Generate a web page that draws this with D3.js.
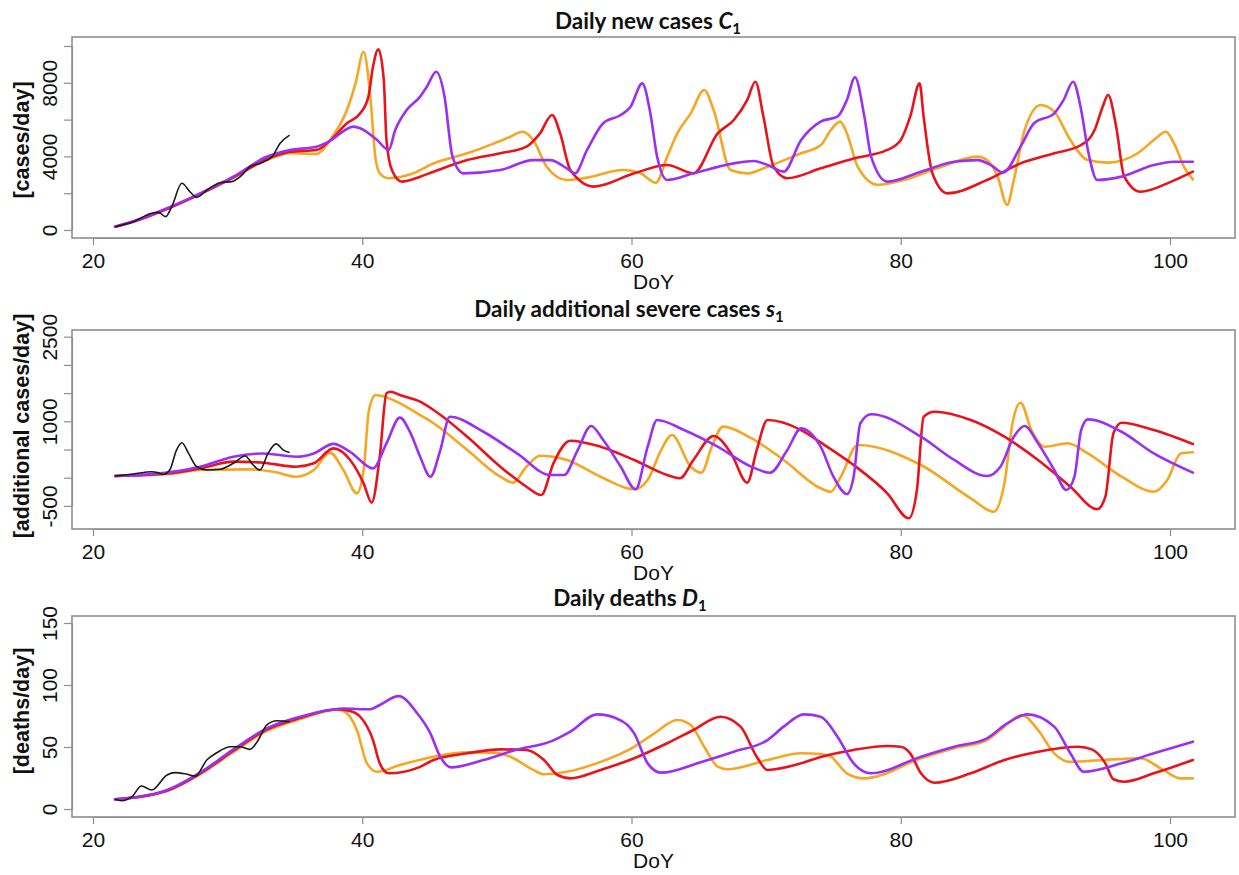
<!DOCTYPE html>
<html><head><meta charset="utf-8">
<script src="https://cdn.jsdelivr.net/npm/d3@7"></script>
<style>body{margin:0;background:#fff}svg{display:block}</style>
</head><body>
<svg id="chart" width="1239" height="875"></svg>
<script>
// ---------- DATA (day of year, value) ----------
const xTicks = [20, 40, 60, 80, 100];

// Panel 1: Daily new cases C1
const casesTicks = [0, 2000, 4000, 6000, 8000, 10000];
const casesTickLabels = [0, 4000, 8000];
const casesObs = [[21.64,180],[23,450],[24.36,906],[24.86,960],[25.4,725],[25.85,1270],[26.6,2540],[27.2,2080],[27.7,1775],[28.45,2170],[29.44,2570],[30.3,2630],[30.93,2900],[31.67,3440],[32.4,3620],[33.3,3980],[33.9,4710],[34.6,5160]];
const casesOrange = [[21.64,180],[23,460],[25.5,1150],[27.95,1950],[30.43,2850],[32.9,3800],[34.65,4170],[36.6,4130],[37.6,4890],[38.86,6520],[39.5,7970],[40.1,9690],[40.6,7250],[40.97,3990],[41.3,3080],[41.96,2810],[43.8,3080],[45.3,3620],[47.8,4170],[49.8,4710],[51,5070],[51.9,5340],[52.7,4890],[53.7,3440],[55.2,2720],[56.4,2810],[59.4,3260],[60.67,3080],[61.8,2570],[62.65,3990],[63.4,5250],[64.4,6340],[65.4,7610],[66.1,6520],[67.36,3260],[68.6,3080],[70.1,3440],[72.6,4170],[74.05,4600],[74.8,5430],[75.5,5890],[76.0,5250],[76.8,3440],[78.3,2450],[80.25,2720],[82.7,3350],[85.7,3990],[86.4,3800],[87.2,2900],[87.9,1360],[88.4,2720],[89.2,5430],[90.4,6790],[91.4,6430],[92.6,4890],[93.9,3800],[95.4,3660],[97.6,4170],[98.8,4890],[99.7,5340],[100.3,4710],[101.1,3350],[101.7,2750]];
const casesRed = [[21.64,180],[23,450],[25.5,1140],[27.95,1950],[30.43,2860],[32.9,3850],[34.65,4250],[36.6,4350],[37.6,4850],[38.86,5800],[39.85,6340],[40.46,7250],[40.8,8880],[41.2,9820],[41.6,8150],[41.8,4890],[42.2,3260],[42.95,2630],[44.3,2900],[45.3,3170],[47.8,3800],[50.26,4170],[52.2,4530],[53.2,5250],[54.1,6250],[54.7,5250],[55.46,3260],[57.2,2360],[60.2,3080],[62.65,3530],[64.6,3080],[66.4,5250],[67.6,5980],[68.6,7070],[69.2,8060],[69.8,6160],[70.56,3440],[71.57,2810],[74.05,3350],[76.5,3890],[79.0,4350],[80,4890],[80.7,6160],[81.4,7970],[81.7,6160],[82.35,3080],[83.46,1990],[86.4,2720],[88.9,3620],[91.4,4170],[93.4,4620],[94.4,5430],[95.0,6700],[95.4,7340],[96.0,5620],[96.6,2900],[97.8,2080],[100.1,2630],[101.7,3170]];
const casesPurple = [[21.64,180],[23,480],[25.5,1180],[27.95,1990],[30.43,2900],[32.9,3980],[34.65,4350],[36.6,4530],[37.5,4800],[39.36,5620],[39.85,5530],[41.1,4890],[41.96,4350],[42.45,5430],[43.3,6520],[44.3,7250],[44.8,7790],[45.5,8600],[46.1,7300],[46.7,4000],[47.5,3080],[50.26,3260],[52.7,3800],[53.97,3800],[55.2,3350],[55.8,3080],[56.7,4350],[57.9,5800],[59.2,6250],[59.93,6700],[60.8,7970],[61.4,6340],[61.9,3990],[62.65,2720],[64.6,3080],[67.6,3620],[69.1,3750],[70.1,3530],[71.3,3170],[72.6,4890],[74.05,5890],[75.3,6160],[76.0,7070],[76.6,8300],[77.3,6160],[77.8,3990],[79.0,2630],[81.5,3170],[83.97,3710],[85.7,3800],[86.7,3530],[87.6,3120],[88.9,4530],[89.9,5800],[91.4,6340],[92.1,7070],[92.8,8060],[93.4,6520],[93.9,4350],[94.6,2720],[96.4,2900],[98.8,3530],[100.3,3710],[101.7,3710]];

// Panel 2: Daily additional severe cases s1
const severeTicks = [-500, 0, 500, 1000, 1500, 2000, 2500];
const severeTickLabels = [-500, 1000, 2500];
const severeObs = [[21.64,30],[23,65],[24.36,106],[24.8,90],[25.2,60],[25.7,136],[26.2,490],[26.6,620],[27.1,430],[27.7,195],[28.45,136],[29.44,150],[30.43,255],[31.3,385],[31.9,225],[32.4,136],[33.0,430],[33.6,600],[34.15,490],[34.6,445]];
const severeOrange = [[21.64,30],[25.5,60],[27.95,136],[31.67,148],[33.5,100],[35.1,18],[36.4,136],[37.6,445],[38.6,136],[39.6,-277],[40.1,136],[40.5,1200],[41.0,1466],[42.8,1319],[44.3,1110],[45.3,965],[47.8,490],[50.26,18],[51.2,-88],[52.2,195],[53.2,390],[55.2,314],[57.7,18],[60.2,-206],[61.2,-40],[62.2,490],[63.0,757],[64.4,195],[65.2,89],[65.96,550],[66.8,905],[68.9,700],[71.3,314],[74.05,-188],[74.8,-248],[75.55,18],[76.8,580],[81.5,225],[85.2,-365],[86.9,-603],[87.7,-100],[88.3,965],[88.9,1330],[89.7,845],[90.7,550],[92.4,610],[93.9,430],[96.4,18],[98.8,-248],[99.8,-40],[100.8,430],[101.7,450]];
const severeRed = [[21.64,30],[25.5,75],[27.95,165],[30.43,285],[32.66,265],[35.1,195],[36.4,255],[37.86,520],[39.1,314],[40.1,-100],[40.7,-443],[41.3,372],[41.8,1496],[42.1,1525],[42.8,1466],[44.3,1348],[45.3,1200],[47.8,727],[50.26,195],[52.2,-160],[53.3,-307],[54.2,255],[55.46,656],[57.7,550],[60.2,314],[62.65,48],[63.6,-11],[64.6,314],[66.1,740],[67.4,430],[68.6,-88],[69.3,490],[70.1,1023],[72.6,845],[74.05,625],[76.5,225],[79.0,-277],[80.6,-720],[81.2,-218],[81.7,1080],[82.5,1170],[85.2,1023],[87.7,727],[90.2,314],[92.6,-160],[94.6,-560],[95.2,-337],[95.8,787],[96.4,975],[98.8,845],[101.7,597]];
const severePurple = [[21.64,30],[25.5,90],[27.95,195],[30.43,372],[32.66,430],[35.1,372],[36.4,430],[37.86,600],[39.1,460],[40.8,165],[41.8,610],[42.8,1065],[43.57,800],[44.3,372],[45.06,18],[45.8,490],[46.5,1080],[49.0,815],[51.5,430],[53.97,48],[55.0,48],[56.0,490],[57.0,917],[57.9,668],[59.2,195],[60.3,-206],[61.2,550],[61.9,1023],[63.9,845],[66.4,550],[68.9,195],[70.3,89],[71.57,490],[72.6,875],[73.55,727],[74.05,550],[75.0,18],[76.0,-290],[76.5,18],[77.0,965],[77.8,1125],[81.5,727],[83.97,314],[86.4,30],[87.4,195],[88.4,727],[89.2,917],[90.2,610],[91.4,136],[92.3,-218],[92.9,18],[93.4,845],[93.9,1035],[96.4,815],[98.8,430],[101.7,89]];

// Panel 3: Daily deaths D1
const deathsTicks = [0, 50, 100, 150];
const deathsTickLabels = [0, 50, 100, 150];
const deathsObs = [[21.64,7.8],[22.1,6.7],[22.9,10],[23.6,18.5],[24.36,15.3],[25.5,27.4],[26.1,29.3],[26.9,28.2],[27.6,26.5],[28.45,39.5],[29.2,45.4],[30.2,50.2],[30.9,50.2],[31.67,48.1],[32.2,54.3],[32.9,67.7],[33.66,71.2],[34.6,70.4]];
const deathsOrange = [[21.64,7.8],[25.5,14.5],[27.95,28],[30.43,46],[32.9,63],[35.4,72.5],[38.1,80],[38.6,79],[39.6,63.7],[40.35,36.8],[41.1,30],[42.8,35.5],[45.3,42.2],[47.8,45.7],[49.8,45.4],[51,42.2],[52.7,31.5],[53.5,28],[55.2,30],[57.7,38],[60.2,50.2],[61.7,61],[63.4,71.8],[64.4,67.7],[65.4,50.2],[66.4,34.1],[67.1,32],[70.1,39.5],[72.6,44.9],[74.05,44.4],[74.8,42.2],[76.0,28.8],[77.3,24.7],[81.5,40.9],[83.97,49],[86.4,55.6],[87.4,63.7],[89.0,75.8],[90.2,63.7],[91.4,44.9],[92.6,38],[95.0,39.5],[97.8,40.9],[99.5,31.5],[100.8,24.7],[101.7,24.7]];
const deathsRed = [[21.64,7.8],[25.5,14.8],[27.95,28.5],[30.43,47],[32.9,64],[35.4,73.5],[38.1,80.5],[39.1,79],[39.85,74.4],[40.8,55.6],[41.3,36.8],[41.96,28.8],[44.3,34],[45.3,39.5],[47.8,44.9],[50.26,48.1],[52.2,47.6],[53.5,39.5],[54.5,27.4],[55.46,24.7],[57.7,31.5],[60.2,40.9],[62.65,53],[64.6,63.7],[66.6,74.4],[68.1,66.4],[69.3,42.2],[70.1,31.5],[72.6,36.8],[74.05,42],[76.5,47.6],[79.0,50.8],[80.0,50.2],[80.7,44.9],[81.5,28.8],[82.5,21.2],[85.2,28.8],[87.7,39.5],[90.2,46.2],[93.2,50.2],[94.2,48.1],[95.2,36.8],[95.8,24],[96.6,22],[98.8,28.8],[101.7,39.5]];
const deathsPurple = [[21.64,7.8],[25.5,15.3],[27.95,29.3],[30.43,48.1],[32.9,65],[35.4,74.4],[37.6,79.8],[38.6,81],[40.6,80.4],[41.3,83.9],[42.7,91],[44.1,77],[45.06,61],[45.8,42],[46.6,33.6],[49.0,39.5],[51.5,48],[53.97,54.3],[55.46,62.4],[57.45,76.3],[58.9,73],[60.2,61],[61.2,36.8],[62.2,29.3],[65.2,38],[67.6,46.2],[70.1,55.6],[71.3,66.4],[72.8,76.3],[74.05,74.4],[75.3,58.3],[76.5,36.8],[77.8,28.8],[81.5,42.2],[83.97,50.2],[86.4,57],[87.9,69],[89.4,76.3],[91.4,66.4],[92.6,44.9],[93.6,30],[96.4,36.8],[98.8,44.9],[101.7,54.3]];

// ---------- DRAWING ----------
const svg = d3.select("#chart");
const COL = {orange: "#F5A623", red: "#E8141C", purple: "#9B30F0", obs: "#1a1a1a"};
const GRAY = "#8e8e8e";
const x = d3.scaleLinear().domain([20, 100]).range([93, 1170]);
const boxL = 72, boxR = 1235;

const panels = [
  {top: 37, bottom: 238, ydom: [0, 10000], yrng: [230, 46], ticks: casesTicks, labels: casesTickLabels,
   ylabel: "[cases/day]", ylabelY: 140, title: ["Daily new cases ", "C"], tx: 648, ty: 29,
   series: [[casesOrange, COL.orange], [casesRed, COL.red], [casesPurple, COL.purple]], obs: casesObs},
  {top: 330, bottom: 529, ydom: [-500, 2500], yrng: [505.9, 336.7], ticks: severeTicks, labels: severeTickLabels,
   ylabel: "[additional cases/day]", ylabelY: 426, title: ["Daily additional severe cases ", "s"], tx: 629, ty: 317,
   series: [[severeOrange, COL.orange], [severeRed, COL.red], [severePurple, COL.purple]], obs: severeObs},
  {top: 616, bottom: 817, ydom: [0, 150], yrng: [809, 623], ticks: deathsTicks, labels: deathsTickLabels,
   ylabel: "[deaths/day]", ylabelY: 711, title: ["Daily deaths ", "D"], tx: 630, ty: 606,
   series: [[deathsOrange, COL.orange], [deathsRed, COL.red], [deathsPurple, COL.purple]], obs: deathsObs}
];

const tickFont = "'Liberation Sans', Arial, sans-serif";

panels.forEach(p => {
  const y = d3.scaleLinear().domain(p.ydom).range(p.yrng);
  const g = svg.append("g");

  // Box
  g.append("rect").attr("x", boxL).attr("y", p.top).attr("width", boxR - boxL).attr("height", p.bottom - p.top)
    .attr("fill", "none").attr("stroke", GRAY).attr("stroke-width", 1.6);

  // X axis
  const xa = g.append("g").attr("transform", `translate(0,${p.bottom})`)
    .call(d3.axisBottom(x).tickValues(xTicks).tickSize(7).tickSizeOuter(0).tickPadding(8));
  xa.select(".domain").attr("stroke", GRAY).attr("stroke-width", 1.2);
  xa.selectAll(".tick line").attr("stroke", GRAY).attr("stroke-width", 1.2);
  xa.selectAll(".tick text").attr("font-family", tickFont).attr("font-size", 21).attr("fill", "#111")
    .attr("dy", null).attr("y", 30).style("dominant-baseline", "alphabetic");

  // Y axis
  const ya = g.append("g").attr("transform", `translate(${boxL},0)`)
    .call(d3.axisLeft(y).tickValues(p.ticks).tickSize(8).tickSizeOuter(0).tickFormat(d => p.labels.includes(d) ? String(d) : ""));
  ya.select(".domain").attr("stroke", GRAY).attr("stroke-width", 1.2);
  ya.selectAll(".tick line").attr("stroke", GRAY).attr("stroke-width", 1.2);
  ya.selectAll(".tick text").attr("font-family", tickFont).attr("font-size", 21).attr("fill", "#111")
    .attr("x", null).attr("dy", null).attr("text-anchor", "middle")
    .attr("transform", "translate(-15,0) rotate(-90)");

  // DoY label
  g.append("text").attr("x", (boxL + boxR) / 2).attr("y", p.bottom + 51).attr("text-anchor", "middle")
    .attr("font-family", tickFont).attr("font-size", 21).attr("fill", "#111").text("DoY");

  // Y label
  g.append("text").attr("transform", `translate(29,${p.ylabelY}) rotate(-90)`).attr("text-anchor", "middle")
    .attr("font-family", tickFont).attr("font-weight", "bold").attr("font-size", 21.5).attr("fill", "#111").text(p.ylabel);

  // Title
  const t = g.append("text").attr("x", p.tx).attr("y", p.ty).attr("text-anchor", "middle")
    .attr("font-family", "Lato, 'Open Sans', sans-serif").attr("font-weight", "bold").attr("font-size", 22.5).attr("fill", "#111");
  t.append("tspan").text(p.title[0]);
  t.append("tspan").attr("font-style", "italic").text(p.title[1]);
  t.append("tspan").attr("font-size", 15).attr("dy", 5).text("1");

  // Lines
  const line = d3.line().x(d => x(d[0])).y(d => y(d[1])).curve(d3.curveMonotoneX);
  p.series.forEach(([data, c]) => {
    g.append("path").datum(data).attr("d", line).attr("fill", "none").attr("stroke", c)
      .attr("stroke-width", 2.6).attr("stroke-linejoin", "round").attr("stroke-linecap", "round");
  });
  g.append("path").datum(p.obs).attr("d", line).attr("fill", "none").attr("stroke", COL.obs)
    .attr("stroke-width", 1.6).attr("stroke-linejoin", "round");
});
</script>
</body></html>
